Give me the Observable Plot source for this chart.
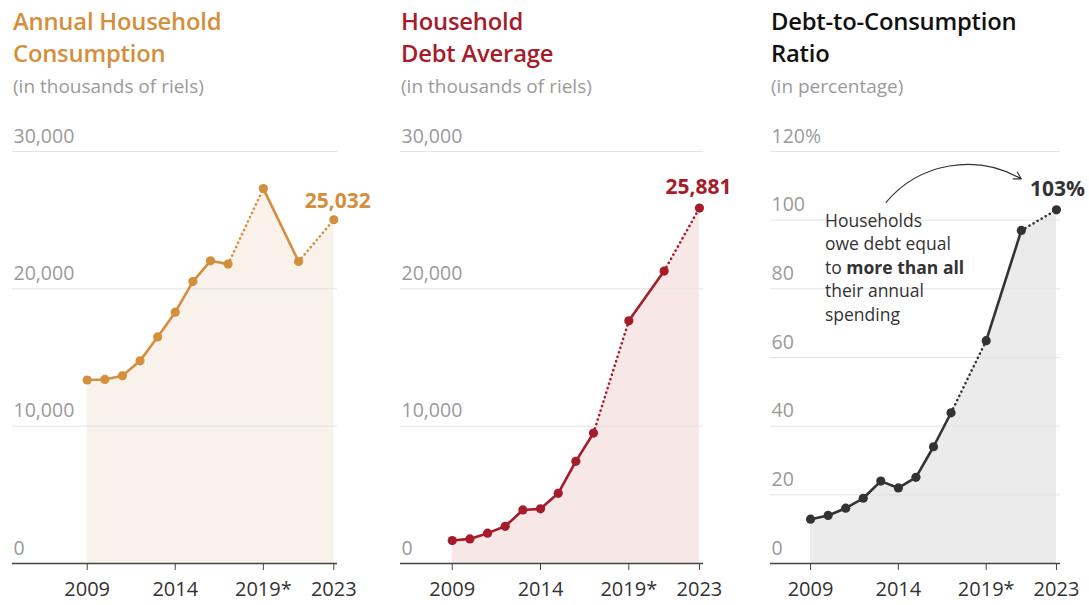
<!DOCTYPE html>
<html>
<head>
<meta charset="utf-8">
<script src="https://cdn.jsdelivr.net/npm/d3@7"></script>
<script src="https://cdn.jsdelivr.net/npm/@observablehq/plot@0.6"></script>
<style>
  html, body { margin: 0; padding: 0; background: #fff; }
  body { width: 1089px; height: 605px; position: relative; overflow: hidden; font-family: "Open Sans", "Noto Sans", sans-serif; }
  .panel { position: absolute; top: 0; }
  .title { position: absolute; top: 5px; left: 1px; font-size: 23.8px; font-weight: 600; line-height: 32px; white-space: nowrap; letter-spacing: -0.2px; }
  .sub { position: absolute; top: 73px; left: 1px; font-size: 19px; color: #9a9a9a; white-space: nowrap; }
  .chart { position: absolute; top: 100px; left: 0; }
  svg { overflow: visible; }
</style>
</head>
<body>
<script>
// ---- Data ----
const years = [2009, 2010, 2011, 2012, 2013, 2014, 2015, 2016, 2017, 2019, 2021, 2023];
const consumption = [13360, 13400, 13670, 14760, 16500, 18300, 20530, 22040, 21800, 27300, 21990, 25032];
const debt = [1670, 1790, 2210, 2710, 3900, 3980, 5110, 7440, 9500, 17670, 21290, 25881];
const ratio = [12.9, 14.0, 16.1, 19.0, 24.0, 22.0, 25.1, 34.0, 43.9, 64.9, 97.0, 103];
const solidSpans = [[2009, 2017], [2019, 2021]];
const dottedSpans = [[2017, 2019], [2021, 2023]];
const xTicks = [2009, 2014, 2019, 2023];
const xTickLabels = ["2009", "2014", "2019*", "2023"];
const yTicksMoney = [0, 10000, 20000, 30000];
const yTicksRatio = [0, 20, 40, 60, 80, 100, 120];
const titles = ["Annual Household\nConsumption", "Household\nDebt Average", "Debt-to-Consumption\nRatio"];
const subtitles = ["(in thousands of riels)", "(in thousands of riels)", "(in percentage)"];
const endLabels = ["25,032", "25,881", "103%"];
const annotationLines = [["Households"], ["owe debt equal"], ["to ", "more than all"], ["their annual"], ["spending"]];
const arrowData = [{x1: 2013.3, y1: 105.2, x2: 2021.0, y2: 112.0}];

const panels = [
  {left: 12, width: 365, domainX: [2004.76, 2023.21], values: consumption, yMax: 30000, yTicks: yTicksMoney,
   fmt: d => d3.format(",")(d), color: "#d38f3c", fill: "#f9f2ea", titleColor: "#d38f3c", labelDy: -18, labelDx: 4},
  {left: 400, width: 343, domainX: [2006.07, 2023.23], values: debt, yMax: 30000, yTicks: yTicksMoney,
   fmt: d => d3.format(",")(d), color: "#a61c2a", fill: "#f7e7e7", titleColor: "#a61c2a", labelDy: -21, labelDx: -1},
  {left: 770, width: 319, domainX: [2006.72, 2023.23], values: ratio, yMax: 120, yTicks: yTicksRatio,
   fmt: d => d === 120 ? "120%" : String(d), color: "#333333", fill: "#ebebeb", titleColor: "#111111", labelDy: -21, labelDx: 1}
];

panels.forEach((p, i) => {
  const data = years.map((y, j) => ({year: y, value: p.values[j]}));
  const div = document.createElement("div");
  div.className = "panel";
  div.style.left = p.left + "px";
  div.style.width = p.width + "px";
  div.style.height = "605px";
  const t = document.createElement("div");
  t.className = "title";
  t.style.color = p.titleColor;
  t.innerHTML = titles[i].replace("\n", "<br>");
  const s = document.createElement("div");
  s.className = "sub";
  s.textContent = subtitles[i];
  div.appendChild(t);
  div.appendChild(s);

  const marks = [
    Plot.areaY(data, {x: "year", y: "value", fill: p.fill}),
    Plot.ruleY(p.yTicks.filter(d => d > 0), {stroke: "#e3e3e3", strokeWidth: 1}),
    Plot.text(p.yTicks, {y: d => d, frameAnchor: "left", textAnchor: "start", dx: 1, dy: -15,
      text: p.fmt, fill: "#9a9a9a", fontSize: 19.5}),
    ...solidSpans.map(([a, b]) => Plot.line(data.filter(d => d.year >= a && d.year <= b),
      {x: "year", y: "value", stroke: p.color, strokeWidth: 2.6})),
    ...dottedSpans.map(([a, b]) => Plot.line(data.filter(d => d.year >= a && d.year <= b),
      {x: "year", y: "value", stroke: p.color, strokeWidth: 2.6, strokeDasharray: "0.1,4.6", strokeLinecap: "round"})),
    Plot.dot(data, {x: "year", y: "value", r: 4.6, fill: p.color}),
    Plot.text(data.slice(-1), {x: "year", y: "value", text: () => endLabels[i], dy: p.labelDy, dx: p.labelDx,
      fill: p.color, fontSize: 21, fontWeight: 700}),
    Plot.ruleY([0], {stroke: "#444", strokeWidth: 1.6}),
    Plot.axisX({ticks: xTicks, tickFormat: d => xTickLabels[xTicks.indexOf(d)], tickSize: 7, tickPadding: 11,
      fontSize: 20, color: "#333", stroke: "#444", label: null})
  ];

  if (i === 2) {
    marks.push(Plot.arrow(arrowData, {x1: "x1", y1: "y1", x2: "x2", y2: "y2", bend: 40, stroke: "#333",
      strokeWidth: 1.2, headLength: 10}));
  }

  const chart = Plot.plot({
    width: p.width,
    height: 505,
    marginLeft: 0,
    marginRight: p.width - (i === 0 ? 325 : i === 1 ? 303 : 290),
    marginTop: 51,
    marginBottom: 42,
    x: {domain: p.domainX, axis: null},
    y: {domain: [0, p.yMax], axis: null},
    style: {fontFamily: "'Open Sans', 'Noto Sans', sans-serif", overflow: "visible"},
    marks
  });
  chart.classList.add("chart");
  div.appendChild(chart);

  if (i === 2) {
    const ann = document.createElement("div");
    ann.style.cssText = "position:absolute; left:55px; top:209px; font-size:17.5px; line-height:23.4px; color:#333; white-space:nowrap;";
    ann.innerHTML = annotationLines.map(l => l.length === 2 ? l[0] + "<b>" + l[1] + "</b>" : l[0]).join("<br>");
    div.appendChild(ann);
  }
  document.body.appendChild(div);
});
</script>
</body>
</html>
